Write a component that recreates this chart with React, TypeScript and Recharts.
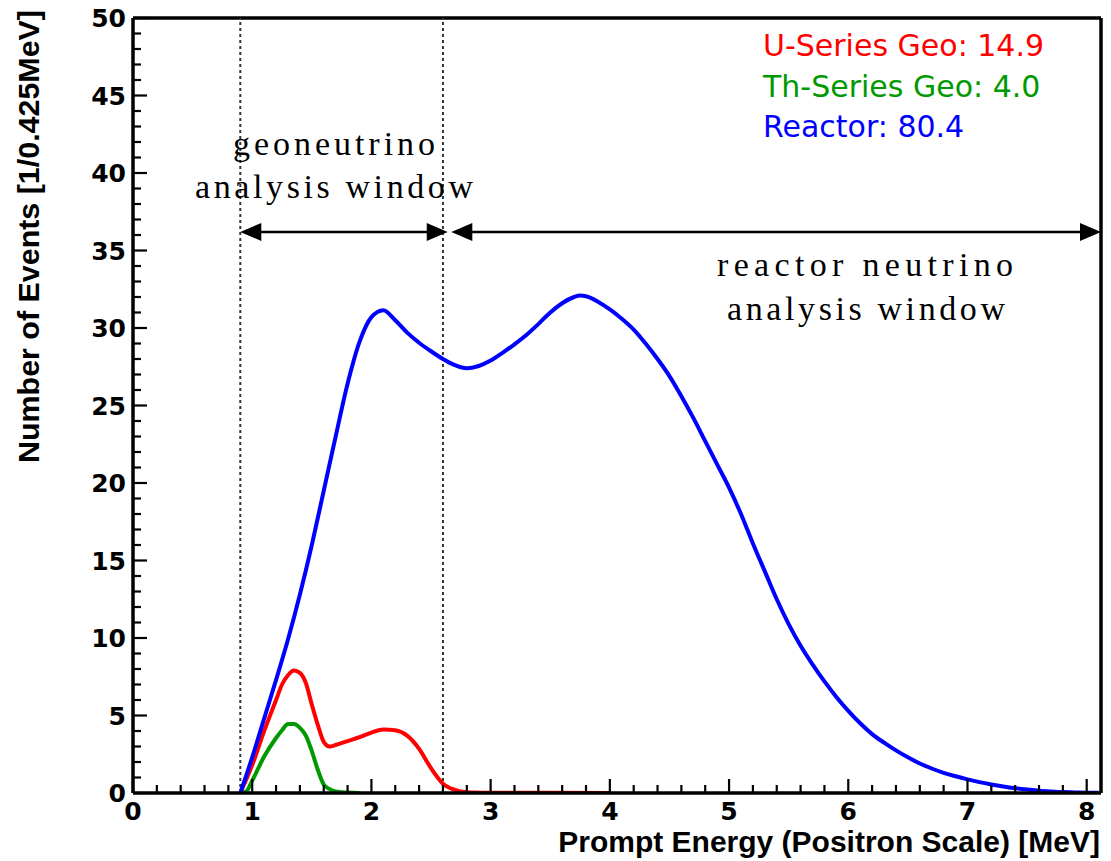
import React from 'react';
import { LineChart, Line, XAxis, YAxis, ReferenceLine } from 'recharts';

// reactor spectrum (blue)
const reactorE = [
  0.9, 1.0, 1.1, 1.2, 1.3, 1.4, 1.5, 1.6, 1.7, 1.8, 1.9, 2.0, 2.1, 2.2, 2.3, 2.4, 2.5, 2.6, 2.7, 2.8,
  2.9, 3.0, 3.1, 3.2, 3.3, 3.4, 3.5, 3.6, 3.7, 3.75, 3.8, 3.9, 4.0, 4.1, 4.2, 4.3, 4.4, 4.5, 4.6, 4.7, 4.8,
  4.9, 5.0, 5.1, 5.2, 5.3, 5.4, 5.5, 5.6, 5.7, 5.8, 5.9, 6.0, 6.1, 6.2, 6.3, 6.4, 6.5, 6.6, 6.7, 6.8,
  6.9, 7.0, 7.1, 7.2, 7.3, 7.4, 7.5, 7.6, 7.7, 7.8, 7.9, 8.0, 8.1,
];
const reactorN = [
  0, 2.3, 4.8, 7.3, 9.9, 12.8, 16.0, 19.5, 23.0, 26.4, 29.1, 30.7, 31.15, 30.5, 29.7, 29.05, 28.5, 28.0, 27.6, 27.4,
  27.55, 27.9, 28.4, 28.95, 29.55, 30.25, 31.0, 31.6, 32.0, 32.1, 32.05, 31.7, 31.2, 30.6, 29.9, 29.0, 28.0, 26.9, 25.6, 24.2, 22.7,
  21.2, 19.7, 18.0, 16.1, 14.3, 12.5, 10.9, 9.5, 8.3, 7.2, 6.2, 5.3, 4.5, 3.8, 3.25, 2.75, 2.3, 1.9, 1.58, 1.3,
  1.08, 0.88, 0.7, 0.55, 0.42, 0.31, 0.22, 0.15, 0.1, 0.06, 0.04, 0.02, 0.01,
];

// U-series geoneutrinos (red)
const uE = [
  0.9, 1.0, 1.1, 1.2, 1.25, 1.3, 1.35, 1.4, 1.45, 1.5, 1.55, 1.6, 1.65, 1.7, 1.8, 1.9, 2.0, 2.1,
  2.2, 2.3, 2.4, 2.5, 2.6, 2.7, 2.8, 3.0, 3.5, 4.0,
];
const uN = [
  0, 1.8, 4.0, 6.0, 7.0, 7.6, 7.9, 7.75, 7.1, 5.7, 4.4, 3.3, 3.0, 3.1, 3.35, 3.6, 3.9, 4.1,
  4.05, 3.7, 2.85, 1.6, 0.6, 0.2, 0.05, 0.02, 0.01, 0,
];

// Th-series geoneutrinos (green)
const thE = [0.9, 0.95, 1.0, 1.1, 1.2, 1.25, 1.3, 1.35, 1.4, 1.45, 1.5, 1.55, 1.6, 1.65, 1.7, 1.8, 1.9];
const thN = [0, 0.1, 0.8, 2.35, 3.55, 4.05, 4.45, 4.45, 4.2, 3.7, 2.7, 1.5, 0.55, 0.25, 0.1, 0.03, 0];

const xMajor = [0, 1, 2, 3, 4, 5, 6, 7, 8];
const yMajor = [0, 5, 10, 15, 20, 25, 30, 35, 40, 45, 50];

const legendItems = [
  { text: 'U-Series Geo: 14.9', color: '#ff0000' },
  { text: 'Th-Series Geo: 4.0', color: '#009a00' },
  { text: 'Reactor: 80.4', color: '#0000ff' },
];

// analysis windows [MeV]
const geoWindow = [0.9, 2.6];
const geoArrow = [0.9, 2.64];
const reactorArrow = [2.67, 8.12];
const arrowLevel = 36.2;

const X_MAX = 8.12;
const Y_MAX = 50;

// minor ticks: x every 0.2, y every 1
const xTicks: number[] = [];
for (let i = 0; i <= 40; i++) xTicks.push(Math.round(i * 2) / 10);
const yTicks: number[] = [];
for (let i = 0; i <= 50; i++) yTicks.push(i);

const toPts = (xs: number[], ys: number[]) => xs.map((x, i) => ({ x, y: ys[i] }));
const reactorData = toPts(reactorE, reactorN);
const uData = toPts(uE, uN);
const thData = toPts(thE, thN);

const tickFont = { fontFamily: '"DejaVu Sans", sans-serif', fontWeight: 700, fontSize: 25, fill: '#000' };

const XTick = (props: any) => {
  const { x, y, payload } = props;
  const v = payload.value;
  const major = xMajor.includes(v);
  return (
    <g>
      <line x1={x} x2={x} y1={y} y2={y - (major ? 14 : 8)} stroke="#000" strokeWidth={2.2} />
      {major && (
        <text x={x} y={y + 27} textAnchor="middle" {...tickFont}>
          {v}
        </text>
      )}
    </g>
  );
};

const YTick = (props: any) => {
  const { x, y, payload } = props;
  const v = payload.value;
  const major = yMajor.includes(v);
  return (
    <g>
      <line x1={x} x2={x + (major ? 14 : 8)} y1={y} y2={y} stroke="#000" strokeWidth={2.2} />
      {major && (
        <text x={x - 7} y={y + 9} textAnchor="end" {...tickFont}>
          {v}
        </text>
      )}
    </g>
  );
};

const Arrow = (props: any) => {
  const { x1, y1, x2, y2 } = props;
  const h = 21;
  const w = 9;
  return (
    <g>
      <line x1={x1 + h - 2} y1={y1} x2={x2 - h + 2} y2={y2} stroke="#000" strokeWidth={2.5} />
      <polygon points={`${x1},${y1} ${x1 + h},${y1 - w} ${x1 + h},${y1 + w}`} fill="#000" />
      <polygon points={`${x2},${y2} ${x2 - h},${y2 - w} ${x2 - h},${y2 + w}`} fill="#000" />
    </g>
  );
};

const serif = { fontFamily: '"Liberation Serif", serif', fontSize: 34, fill: '#000' };

export default function App() {
  return (
    <div style={{ position: 'absolute', left: 0, top: 0, width: 1111, height: 861, background: '#fff' }}>
      <LineChart width={1111} height={861} margin={{ top: 18, right: 10, bottom: 0, left: 0 }}>
        <XAxis
          type="number"
          dataKey="x"
          domain={[0, X_MAX]}
          allowDataOverflow
          ticks={xTicks}
          interval={0}
          tick={<XTick />}
          tickLine={false}
          tickSize={0}
          tickMargin={0}
          height={68}
          axisLine={{ stroke: '#000', strokeWidth: 3.5 }}
        />
        <YAxis
          type="number"
          domain={[0, Y_MAX]}
          allowDataOverflow
          ticks={yTicks}
          interval={0}
          tick={<YTick />}
          tickLine={false}
          tickSize={0}
          tickMargin={0}
          width={133}
          axisLine={{ stroke: '#000', strokeWidth: 3.5 }}
        />
        <ReferenceLine y={Y_MAX} stroke="#000" strokeWidth={3.5} />
        <ReferenceLine x={X_MAX} stroke="#000" strokeWidth={3.5} />
        {geoWindow.map((e) => (
          <ReferenceLine key={e} x={e} stroke="#333" strokeWidth={2} strokeDasharray="3 3" />
        ))}
        <ReferenceLine
          segment={[{ x: geoArrow[0], y: arrowLevel }, { x: geoArrow[1], y: arrowLevel }]}
          shape={Arrow}
        />
        <ReferenceLine
          segment={[{ x: reactorArrow[0], y: arrowLevel }, { x: reactorArrow[1], y: arrowLevel }]}
          shape={Arrow}
        />
        <Line data={uData} dataKey="y" type="monotone" stroke="#ff0000" strokeWidth={4} dot={false} activeDot={false} isAnimationActive={false} />
        <Line data={thData} dataKey="y" type="monotone" stroke="#009a00" strokeWidth={4} dot={false} activeDot={false} isAnimationActive={false} />
        <Line data={reactorData} dataKey="y" type="monotone" stroke="#0000ff" strokeWidth={4} dot={false} activeDot={false} isAnimationActive={false} />
      </LineChart>

      <svg width={1111} height={861} style={{ position: 'absolute', left: 0, top: 0, pointerEvents: 'none' }}>
        <text
          x={39}
          y={463}
          transform="rotate(-90 39 463)"
          textLength={453}
          lengthAdjust="spacingAndGlyphs"
          style={{ fontFamily: '"Liberation Sans", Arial, sans-serif', fontWeight: 700, fontSize: 30 }}
        >
          Number of Events [1/0.425MeV]
        </text>
        <text
          x={1100}
          y={852}
          textAnchor="end"
          style={{ fontFamily: '"Liberation Sans", Arial, sans-serif', fontWeight: 700, fontSize: 30 }}
        >
          Prompt Energy (Positron Scale) [MeV]
        </text>
        {legendItems.map((it, i) => (
          <text
            key={it.text}
            x={763}
            y={56 + i * 40.5}
            fill={it.color}
            style={{ fontFamily: '"DejaVu Sans", sans-serif', fontSize: 30 }}
          >
            {it.text}
          </text>
        ))}
        <text x={334} y={155} textAnchor="middle" textLength={202} lengthAdjust="spacing" {...serif}>
          geoneutrino
        </text>
        <text x={334} y={198} textAnchor="middle" textLength={278} lengthAdjust="spacing" {...serif}>
          analysis window
        </text>
        <text x={865} y={276} textAnchor="middle" textLength={296} lengthAdjust="spacing" {...serif}>
          reactor neutrino
        </text>
        <text x={866} y={320} textAnchor="middle" textLength={278} lengthAdjust="spacing" {...serif}>
          analysis window
        </text>
      </svg>
    </div>
  );
}
